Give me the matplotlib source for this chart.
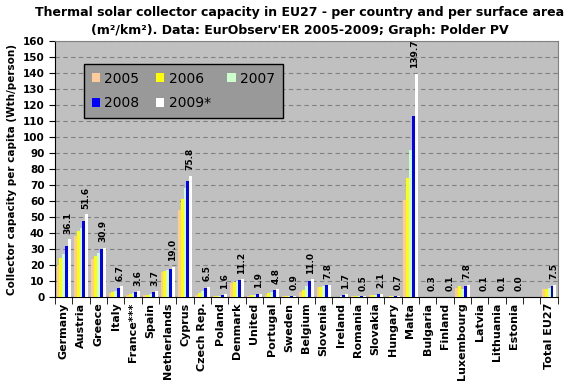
import matplotlib
matplotlib.use("Agg")
import matplotlib.pyplot as plt
import numpy as np

countries = ["Germany", "Austria", "Greece", "Italy", "France***", "Spain", "Netherlands",
             "Cyprus", "Czech Rep.", "Poland", "Denmark", "United", "Portugal", "Sweden",
             "Belgium", "Slovenia", "Ireland", "Romania", "Slovakia", "Hungary", "Malta",
             "Bulgaria", "Finland", "Luxembourg", "Latvia", "Lithuania", "Estonia", "",
             "Total EU27"]

v2005 = [20.0, 38.3, 23.5, 2.3, 1.5, 1.2, 15.6, 54.4, 1.5, 0.5, 8.8, 0.9, 1.5, 0.5,
         3.0, 6.0, 0.1, 0.4, 1.0, 0.3, 60.6, 0.2, 0.1, 5.5, 0.1, 0.1, 0.0, 0, 4.8]
v2006 = [24.2, 41.2, 25.8, 3.0, 2.0, 1.5, 16.3, 61.0, 2.5, 0.6, 9.3, 1.1, 2.2, 0.6,
         4.4, 6.4, 0.2, 0.4, 1.2, 0.4, 74.6, 0.2, 0.1, 6.7, 0.1, 0.1, 0.0, 0, 5.3]
v2007 = [26.9, 43.3, 27.7, 3.8, 2.5, 2.0, 16.9, 68.0, 4.0, 0.8, 9.8, 1.4, 3.0, 0.7,
         6.7, 6.9, 0.6, 0.4, 1.4, 0.5, 92.0, 0.3, 0.1, 4.8, 0.1, 0.1, 0.0, 0, 5.8]
v2008 = [31.9, 47.5, 30.0, 5.5, 3.2, 3.3, 17.5, 72.7, 5.8, 1.4, 10.5, 1.7, 4.3, 0.8,
         10.0, 7.4, 1.3, 0.5, 2.0, 0.6, 113.0, 0.3, 0.1, 6.9, 0.1, 0.1, 0.0, 0, 6.6]
v2009 = [36.1, 51.6, 30.9, 6.7, 3.6, 3.7, 19.0, 75.8, 6.5, 1.6, 11.2, 1.9, 4.8, 0.9,
         11.0, 7.8, 1.7, 0.5, 2.1, 0.7, 139.7, 0.3, 0.1, 7.8, 0.1, 0.1, 0.0, 0, 7.5]
labels2009 = ["36.1", "51.6", "30.9", "6.7", "3.6", "3.7", "19.0", "75.8", "6.5", "1.6",
              "11.2", "1.9", "4.8", "0.9", "11.0", "7.8", "1.7", "0.5", "2.1", "0.7",
              "139.7", "0.3", "0.1", "7.8", "0.1", "0.1", "0.0", "", "7.5"]

years = ["2005", "2006", "2007", "2008", "2009*"]
series = [v2005, v2006, v2007, v2008, v2009]
colors = ["#FFCC99", "#FFFF00", "#CCFFCC", "#0000FF", "#FFFFFF"]

fig = plt.figure(figsize=(5.81, 3.91), dpi=100)
ax = fig.add_axes([0.0947, 0.2404, 0.8653, 0.6546])
ax.set_facecolor("#C0C0C0")

x = np.arange(len(countries))
w = 0.165
handles = []
for i, (vals, c, yr) in enumerate(zip(series, colors, years)):
    h = ax.bar(x + (i - 2) * w, vals, width=w, color=c, edgecolor="none", label=yr, zorder=3)
    handles.append(h)

for xi, v, lab in zip(x, v2009, labels2009):
    if lab:
        ax.annotate(lab, (xi + 1.6 * w, v), xytext=(0, 4), textcoords="offset points",
                    rotation=90, ha="center", va="bottom", fontsize=6.5,
                    fontweight="bold", color="black")

ax.set_xlim(-0.5, len(countries) - 0.5)
ax.set_ylim(0, 160)
ax.set_yticks(np.arange(0, 161, 10))
ax.yaxis.grid(True, color="#808080", linestyle=(0, (4, 3)), linewidth=0.8, zorder=0)
ax.set_axisbelow(True)

ax.set_xticks(x)
ax.set_xticklabels(countries, rotation=90, fontsize=8, fontweight="bold")
ax.tick_params(axis="x", which="major", length=0, pad=4)
ax.set_xticks(np.arange(-0.5, len(countries), 1.0), minor=True)
ax.tick_params(axis="x", which="minor", length=5, color="black")
ax.tick_params(axis="y", labelsize=7.5, length=4, color="black")
for t in ax.get_yticklabels():
    t.set_fontweight("bold")

for s in ["top", "right"]:
    ax.spines[s].set_color("#808080")
ax.spines["left"].set_color("black")
ax.spines["bottom"].set_color("black")

ax.set_ylabel("Collector capacity per capita (Wth/person)", fontsize=7.5, fontweight="bold", labelpad=4)

order = [0, 3, 1, 4, 2]
leg = ax.legend([handles[i] for i in order], [years[i] for i in order], ncol=3,
                loc="upper left", bbox_to_anchor=(0.0577, 0.711, 0.395, 0.199), mode="expand",
                fontsize=10, frameon=True, fancybox=False, handlelength=0.6, handleheight=0.6,
                handletextpad=0.3, labelspacing=0.75, borderpad=0.55, columnspacing=0.8,
                borderaxespad=0)
leg.get_frame().set_facecolor("#999999")
leg.get_frame().set_edgecolor("black")
leg.get_frame().set_linewidth(1.0)
leg.get_frame().set_alpha(1)

fig.text(0.516, 0.967, "Thermal solar collector capacity in EU27 - per country and per surface area",
         ha="center", va="center", fontsize=9.0, fontweight="bold")
fig.text(0.516, 0.923, "(m²/km²). Data: EurObserv'ER 2005-2009; Graph: Polder PV",
         ha="center", va="center", fontsize=9.0, fontweight="bold")

fig.savefig("out.png", dpi=100)
